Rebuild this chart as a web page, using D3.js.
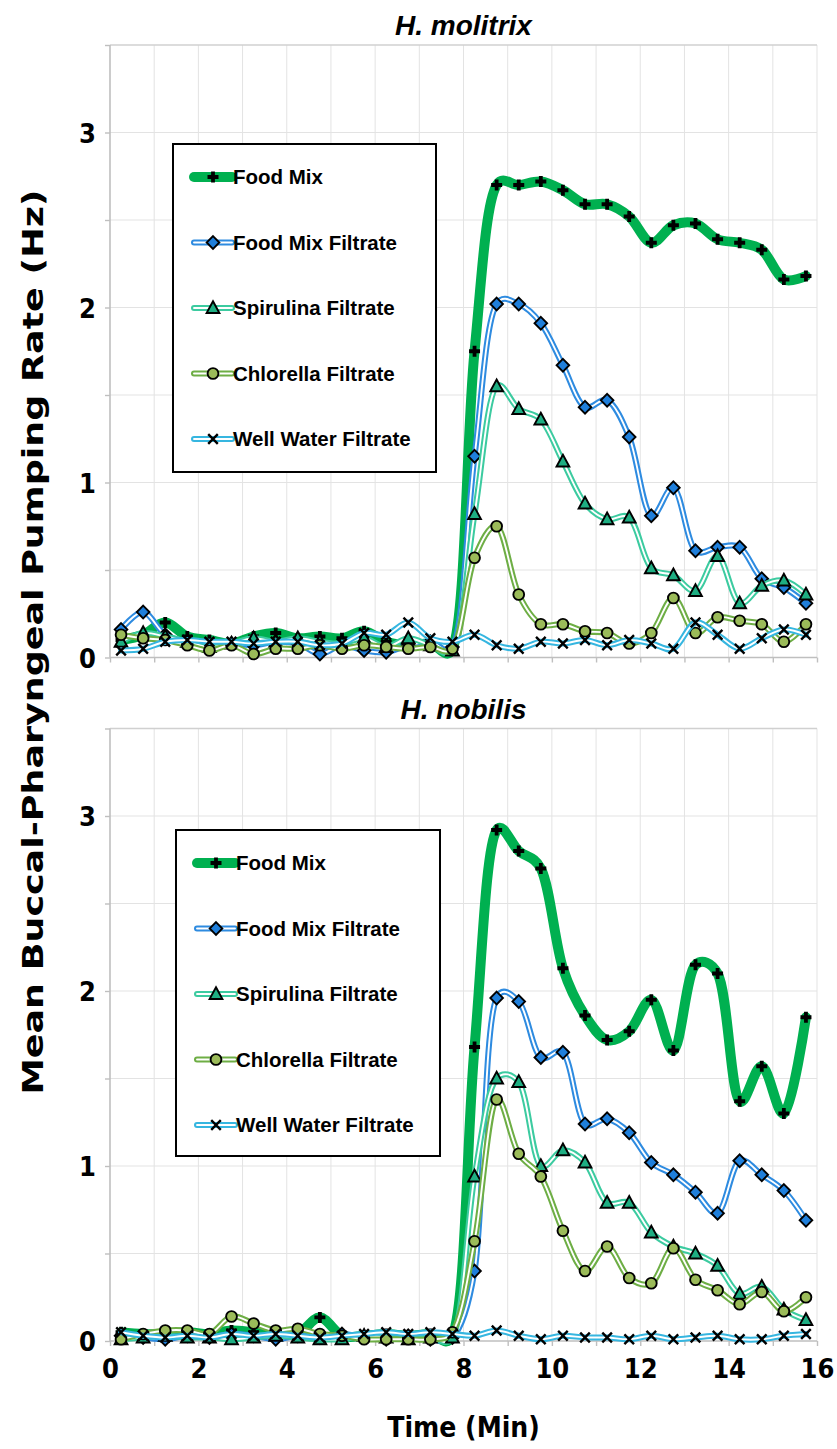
<!DOCTYPE html>
<html>
<head>
<meta charset="utf-8">
<script src="https://cdn.jsdelivr.net/npm/d3@7"></script>
<style>
  html, body { margin: 0; padding: 0; background: #fff; }
  svg { display: block; }
</style>
</head>
<body>
<svg id="chart" width="837" height="1449"></svg>
<script>
// Sampling times (min)
const times = [0.25, 0.75, 1.25, 1.75, 2.25, 2.75, 3.25, 3.75, 4.25, 4.75, 5.25, 5.75, 6.25, 6.75, 7.25, 7.75,
               8.25, 8.75, 9.25, 9.75, 10.25, 10.75, 11.25, 11.75, 12.25, 12.75, 13.25, 13.75, 14.25, 14.75, 15.25, 15.75];

const seriesNames = ["Food Mix", "Food Mix Filtrate", "Spirulina Filtrate", "Chlorella Filtrate", "Well Water Filtrate"];

// H. molitrix – mean pumping rate (Hz)
const molitrixFoodMix   = [0.10,0.13,0.20,0.12,0.10,0.08,0.12,0.14,0.11,0.12,0.11,0.15,0.09,0.07,0.08,0.05,
                           1.75,2.70,2.70,2.72,2.67,2.59,2.59,2.52,2.37,2.47,2.48,2.39,2.37,2.33,2.16,2.18];
const molitrixFiltrate  = [0.16,0.26,0.13,0.09,0.07,0.08,0.07,0.09,0.08,0.02,0.07,0.04,0.03,0.07,0.09,0.06,
                           1.15,2.02,2.02,1.91,1.67,1.43,1.47,1.26,0.81,0.97,0.61,0.63,0.63,0.45,0.40,0.31];
const molitrixSpirulina = [0.09,0.14,0.12,0.09,0.06,0.08,0.11,0.09,0.11,0.09,0.08,0.11,0.06,0.11,0.07,0.04,
                           0.82,1.55,1.42,1.36,1.12,0.88,0.79,0.80,0.51,0.47,0.38,0.58,0.31,0.41,0.44,0.36];
const molitrixChlorella = [0.13,0.11,0.10,0.07,0.04,0.07,0.02,0.05,0.05,0.07,0.05,0.07,0.06,0.05,0.06,0.05,
                           0.57,0.75,0.36,0.19,0.19,0.15,0.14,0.08,0.14,0.34,0.14,0.23,0.21,0.19,0.09,0.19];
const molitrixWell      = [0.04,0.05,0.09,0.10,0.09,0.09,0.08,0.09,0.09,0.07,0.08,0.14,0.13,0.20,0.11,0.09,
                           0.13,0.07,0.05,0.09,0.08,0.10,0.07,0.10,0.08,0.05,0.20,0.13,0.05,0.11,0.16,0.13];

// H. nobilis – mean pumping rate (Hz)
const nobilisFoodMix   = [0.05,0.04,0.04,0.05,0.04,0.06,0.05,0.04,0.04,0.135,0.03,0.03,0.04,0.03,0.04,0.03,
                          1.68,2.92,2.80,2.70,2.13,1.86,1.72,1.77,1.95,1.66,2.15,2.10,1.37,1.57,1.30,1.85];
const nobilisFiltrate  = [0.03,0.02,0.01,0.03,0.02,0.04,0.03,0.01,0.03,0.02,0.04,0.02,0.01,0.03,0.01,0.02,
                          0.40,1.96,1.94,1.62,1.65,1.24,1.27,1.19,1.02,0.95,0.85,0.73,1.03,0.95,0.86,0.69];
const nobilisSpirulina = [0.01,0.02,0.03,0.02,0.02,0.01,0.02,0.03,0.02,0.01,0.01,0.03,0.02,0.01,0.02,0.02,
                          0.94,1.50,1.48,1.00,1.09,1.02,0.79,0.79,0.62,0.54,0.50,0.43,0.27,0.31,0.18,0.12];
const nobilisChlorella = [0.01,0.04,0.06,0.06,0.04,0.14,0.10,0.06,0.07,0.04,0.03,0.01,0.01,0.01,0.01,0.05,
                          0.57,1.38,1.07,0.94,0.63,0.40,0.54,0.36,0.33,0.53,0.35,0.29,0.21,0.28,0.17,0.25];
const nobilisWell      = [0.05,0.03,0.02,0.03,0.02,0.04,0.03,0.04,0.03,0.02,0.03,0.04,0.05,0.04,0.05,0.04,
                          0.03,0.06,0.03,0.01,0.03,0.02,0.02,0.01,0.03,0.01,0.02,0.03,0.01,0.01,0.03,0.04];

// Axis ticks
const xTickLabels = [0, 2, 4, 6, 8, 10, 12, 14, 16];
const yTickLabels = [0, 1, 2, 3];

// Series styles
const styles = [
  { kind: "thick",  color: "#00B050", marker: "plus" },
  { kind: "double", color: "#2E8BE0", marker: "diamond",  fill: "#1F7FDB" },
  { kind: "double", color: "#3CCBA0", marker: "triangle", fill: "#1EAE82" },
  { kind: "double", color: "#6EAE45", marker: "circle",   fill: "#9BBB59" },
  { kind: "double", color: "#36B6E0", marker: "cross" }
];

const svg = d3.select("#chart");
const tickFont = "'DejaVu Sans Condensed', 'Liberation Sans Narrow', sans-serif";
const textFont = "'Liberation Sans', Arial, sans-serif";

const plotLeft = 110, plotRight = 817;
const x = d3.scaleLinear().domain([0, 16]).range([plotLeft, plotRight]);

function drawMarker(g, type, fill, cx, cy) {
  const m = g.append("g").attr("transform", `translate(${cx},${cy})`);
  if (type === "plus") {
    m.append("path").attr("d", "M-5.5,0H5.5M0,-5.5V5.5")
      .attr("stroke", "#000").attr("stroke-width", 3.8).attr("fill", "none");
  } else if (type === "diamond") {
    m.append("path").attr("d", "M0,-6.3L6.3,0L0,6.3L-6.3,0Z")
      .attr("fill", fill).attr("stroke", "#000").attr("stroke-width", 1.9);
  } else if (type === "triangle") {
    m.append("path").attr("d", "M0,-6.8L6.4,5L-6.4,5Z")
      .attr("fill", fill).attr("stroke", "#000").attr("stroke-width", 1.9)
      .attr("stroke-linejoin", "miter");
  } else if (type === "circle") {
    m.append("circle").attr("r", 5.4)
      .attr("fill", fill).attr("stroke", "#000").attr("stroke-width", 1.9);
  } else if (type === "cross") {
    m.append("path").attr("d", "M-4.8,-4.8L4.8,4.8M-4.8,4.8L4.8,-4.8")
      .attr("stroke", "#000").attr("stroke-width", 2.4).attr("fill", "none");
  }
}

function strokeSeries(g, d, st) {
  if (st.kind === "thick") {
    g.append("path").attr("d", d).attr("fill", "none")
      .attr("stroke", st.color).attr("stroke-width", 10).attr("stroke-linecap", "round")
      .attr("stroke-linejoin", "round");
  } else {
    g.append("path").attr("d", d).attr("fill", "none")
      .attr("stroke", st.color).attr("stroke-width", 6).attr("stroke-linecap", "round")
      .attr("stroke-linejoin", "round");
    g.append("path").attr("d", d).attr("fill", "none")
      .attr("stroke", "#fff").attr("stroke-width", 1.9).attr("stroke-linecap", "round")
      .attr("stroke-linejoin", "round");
  }
}

function drawPanel(opts) {
  const { top, bottom, title, data, legendBox, showXLabels } = opts;
  const y = d3.scaleLinear().domain([0, 3.5]).range([bottom, top]);
  const g = svg.append("g");

  // grid
  const grid = g.append("g");
  grid.selectAll("line.v").data(d3.range(1, 17)).join("line")
    .attr("x1", d => x(d)).attr("x2", d => x(d))
    .attr("y1", top).attr("y2", bottom)
    .attr("stroke", "#E3E3E3").attr("stroke-width", 1);
  grid.selectAll("line.h").data(d3.range(0.5, 3.51, 0.5)).join("line")
    .attr("x1", plotLeft).attr("x2", plotRight)
    .attr("y1", d => y(d)).attr("y2", d => y(d))
    .attr("stroke", d => d === 3.5 ? "#D0D0D0" : "#E3E3E3").attr("stroke-width", d => d === 3.5 ? 1.5 : 1);

  // y axis
  const yAxis = d3.axisLeft(y).tickValues(d3.range(0, 3.51, 0.5)).tickSize(5)
    .tickFormat(d => yTickLabels.includes(d) ? d : "");
  const ya = g.append("g").attr("transform", `translate(${plotLeft},0)`).call(yAxis);
  ya.select(".domain").attr("stroke", "#BFBFBF").attr("stroke-width", 1.6)
    .attr("d", `M0,${top}V${bottom}`);
  ya.selectAll(".tick line").attr("stroke", "#BFBFBF").attr("stroke-width", 1.4);
  ya.selectAll(".tick text").attr("x", -14).attr("dy", "0.36em")
    .attr("font-family", tickFont).attr("font-weight", "bold").attr("font-size", 27).attr("fill", "#000");

  // x axis
  const xAxis = d3.axisBottom(x).tickValues(d3.range(0, 17)).tickSize(5)
    .tickFormat(d => (showXLabels && xTickLabels.includes(d)) ? d : "");
  const xa = g.append("g").attr("transform", `translate(0,${bottom})`).call(xAxis);
  xa.select(".domain").attr("stroke", "#BFBFBF").attr("stroke-width", 1.6)
    .attr("d", `M${plotLeft},0H${plotRight}`);
  xa.selectAll(".tick line").attr("stroke", "#BFBFBF").attr("stroke-width", 1.4);
  xa.selectAll(".tick text").attr("y", 18).attr("dy", "0.71em")
    .attr("font-family", tickFont).attr("font-weight", "bold").attr("font-size", 27).attr("fill", "#000");

  // title
  g.append("text").attr("x", (plotLeft + plotRight) / 2).attr("y", top - 10)
    .attr("text-anchor", "middle").attr("font-family", textFont)
    .attr("font-weight", "bold").attr("font-style", "italic").attr("font-size", 28)
    .text(title);

  // series (smoothed lines with markers)
  const line = d3.line().x(d => x(d[0])).y(d => y(d[1])).curve(d3.curveCatmullRom.alpha(0.3));
  data.forEach((vals, i) => {
    const st = styles[i];
    const pts = times.map((t, k) => [t, vals[k]]);
    const sg = g.append("g");
    strokeSeries(sg, line(pts), st);
    pts.forEach(p => drawMarker(sg, st.marker, st.fill, x(p[0]), y(p[1])));
  });

  // legend
  const lg = g.append("g");
  lg.append("rect").attr("x", legendBox.x).attr("y", legendBox.y)
    .attr("width", legendBox.w).attr("height", legendBox.h)
    .attr("fill", "#fff").attr("stroke", "#000").attr("stroke-width", 2);
  seriesNames.forEach((name, i) => {
    const cy = legendBox.y + 33 + i * 65.5;
    const lx0 = legendBox.x + 21, lx1 = legendBox.x + 59;
    const st = styles[i];
    strokeSeries(lg, `M${lx0},${cy}H${lx1}`, st);
    drawMarker(lg, st.marker, st.fill, (lx0 + lx1) / 2, cy);
    lg.append("text").attr("x", lx1 + 1).attr("y", cy).attr("dy", "0.36em")
      .attr("font-family", textFont).attr("font-weight", "bold").attr("font-size", 20.5)
      .text(name);
  });
}

drawPanel({
  top: 45, bottom: 657.5, title: "H. molitrix",
  data: [molitrixFoodMix, molitrixFiltrate, molitrixSpirulina, molitrixChlorella, molitrixWell],
  legendBox: { x: 173, y: 144, w: 263, h: 328 }, showXLabels: false
});
drawPanel({
  top: 728.5, bottom: 1341, title: "H. nobilis",
  data: [nobilisFoodMix, nobilisFiltrate, nobilisSpirulina, nobilisChlorella, nobilisWell],
  legendBox: { x: 176, y: 830, w: 264, h: 326 }, showXLabels: true
});

// axis titles
svg.append("text").attr("x", (plotLeft + plotRight) / 2).attr("y", 1437)
  .attr("text-anchor", "middle").attr("font-family", tickFont)
  .attr("font-weight", "bold").attr("font-size", 28).text("Time (Min)");
svg.append("text").attr("transform", `translate(43,642) rotate(-90)`)
  .attr("text-anchor", "middle").attr("font-family", tickFont)
  .attr("font-weight", "bold").attr("font-size", 28)
  .attr("textLength", 905).attr("lengthAdjust", "spacingAndGlyphs")
  .text("Mean Buccal-Pharyngeal Pumping Rate (Hz)");
</script>
</body>
</html>
